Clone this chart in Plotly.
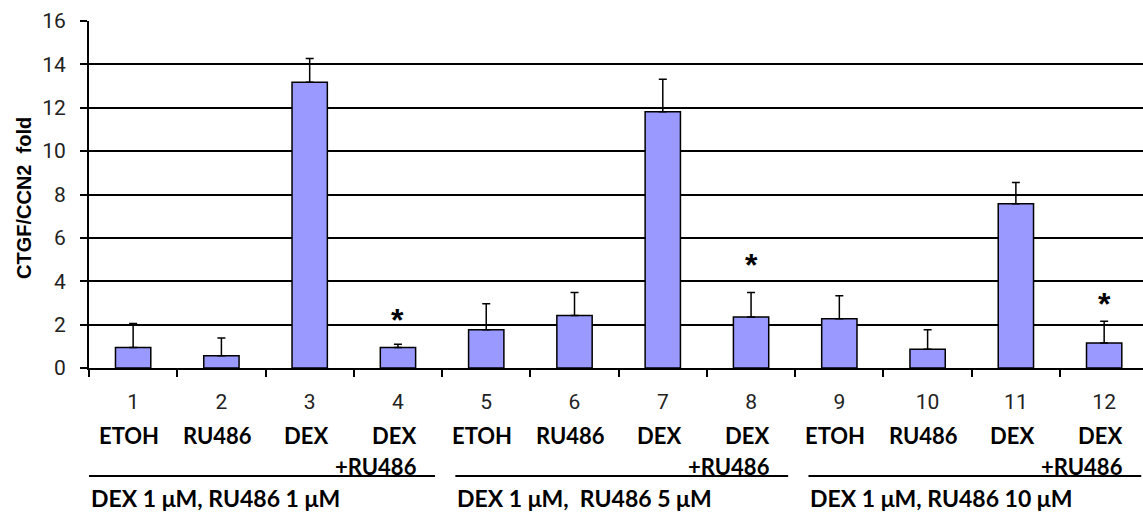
import plotly.graph_objects as go

# ---- data ----
categories = ["1", "2", "3", "4", "5", "6", "7", "8", "9", "10", "11", "12"]
treatments = ["ETOH", "RU486", "DEX", "DEX", "ETOH", "RU486", "DEX", "DEX",
              "ETOH", "RU486", "DEX", "DEX"]
treatment_second_line = ["", "", "", "+RU486", "", "", "", "+RU486",
                         "", "", "", "+RU486"]
fold_mean = [0.95, 0.57, 13.18, 0.95, 1.76, 2.42, 11.81, 2.35, 2.27, 0.87, 7.57, 1.15]
fold_err = [1.10, 0.81, 1.09, 0.15, 1.20, 1.06, 1.50, 1.13, 1.06, 0.89, 0.98, 1.00]
significant = [False, False, False, True, False, False, False, True,
               False, False, False, True]
star_level = [None, None, None, 2.6, None, None, None, 5.1, None, None, None, 3.3]
group_labels = ["DEX 1 μM, RU486 1 μM", "DEX 1 μM,  RU486 5 μM", "DEX 1 μM, RU486 10 μM"]
group_first = [0, 4, 8]
group_last = [3, 7, 11]
y_title = "CTGF/CCN2  fold"

fig = go.Figure()
fig.add_trace(go.Bar(
    x=list(range(len(categories))), y=fold_mean, width=0.4,
    marker=dict(color="#9999FF", line=dict(color="black", width=1.5)),
    error_y=dict(type="data", symmetric=False, array=fold_err,
                 arrayminus=[0] * len(fold_err), color="black", thickness=1.5, width=4),
    showlegend=False, hoverinfo="skip",
))

ann = []
# significance stars
for i, (sig, lvl) in enumerate(zip(significant, star_level)):
    if sig:
        ann.append(dict(x=i, y=lvl, xref="x", yref="y", text="<b>*</b>",
                        showarrow=False, yanchor="middle", yshift=-8,
                        font=dict(family="Liberation Sans", size=32, color="black")))
# treatment names
for i, (t, t2) in enumerate(zip(treatments, treatment_second_line)):
    ann.append(dict(x=i, y=0, xref="x", yref="paper", text="<b>%s</b>" % t,
                    showarrow=False, yanchor="middle", yshift=-67, xshift=-4,
                    font=dict(family="Lato", size=22, color="black")))
    if t2:
        ann.append(dict(x=i, y=0, xref="x", yref="paper", text="<b>%s</b>" % t2,
                        showarrow=False, yanchor="middle", yshift=-98, xshift=-22,
                        font=dict(family="Lato", size=22, color="black")))
# group labels and lines
shapes = []
line_y = (368 - 476) / 347
for g, lab in enumerate(group_labels):
    x0 = group_first[g] - 0.5 + (0.0 if g == 0 else 0.15)
    x1 = group_last[g] + 0.5 - 0.08
    shapes.append(dict(type="line", xref="x", yref="paper", x0=x0, x1=x1,
                       y0=line_y, y1=line_y, line=dict(color="black", width=2)))
    ann.append(dict(x=x0, y=0, xref="x", yref="paper", text="<b>%s</b>" % lab,
                    showarrow=False, xanchor="left", yanchor="middle", yshift=-130,
                    font=dict(family="Lato", size=23, color="black")))
# y title
ann.append(dict(x=0, y=0.49, xref="paper", yref="paper", text="<b>%s</b>" % y_title,
                textangle=-90, showarrow=False, xanchor="center", xshift=-65,
                font=dict(family="Liberation Sans", size=20, color="black")))

fig.update_layout(
    width=1143, height=512,
    margin=dict(l=89, r=0, t=21, b=144),
    paper_bgcolor="white", plot_bgcolor="white",
    annotations=ann, shapes=shapes,
    xaxis=dict(range=[-0.5, 11.44], showgrid=False, automargin=False,
               tickmode="array", tickvals=list(range(len(categories))), ticktext=categories,
               showline=True, linecolor="black", linewidth=2, zeroline=False,
               ticks="", ticklabelstandoff=14,
               minor=dict(tickmode="array", tickvals=[i - 0.5 for i in range(len(categories) + 1)],
                          ticks="outside", ticklen=7, tickwidth=2, tickcolor="black", showgrid=False),
               tickfont=dict(family="Roboto", size=21, color="#222")),
    yaxis=dict(range=[0, 16], dtick=2, showgrid=True, gridcolor="black", gridwidth=2,
               automargin=False,
               showline=True, linecolor="black", linewidth=2, zeroline=False,
               ticks="outside", ticklen=7, tickwidth=2, tickcolor="black",
               ticklabelstandoff=10,
               tickfont=dict(family="Roboto", size=21, color="#222")),
)

fig.write_html("out.html", config={"displayModeBar": False},
               post_script="document.body.style.margin='0px';")
